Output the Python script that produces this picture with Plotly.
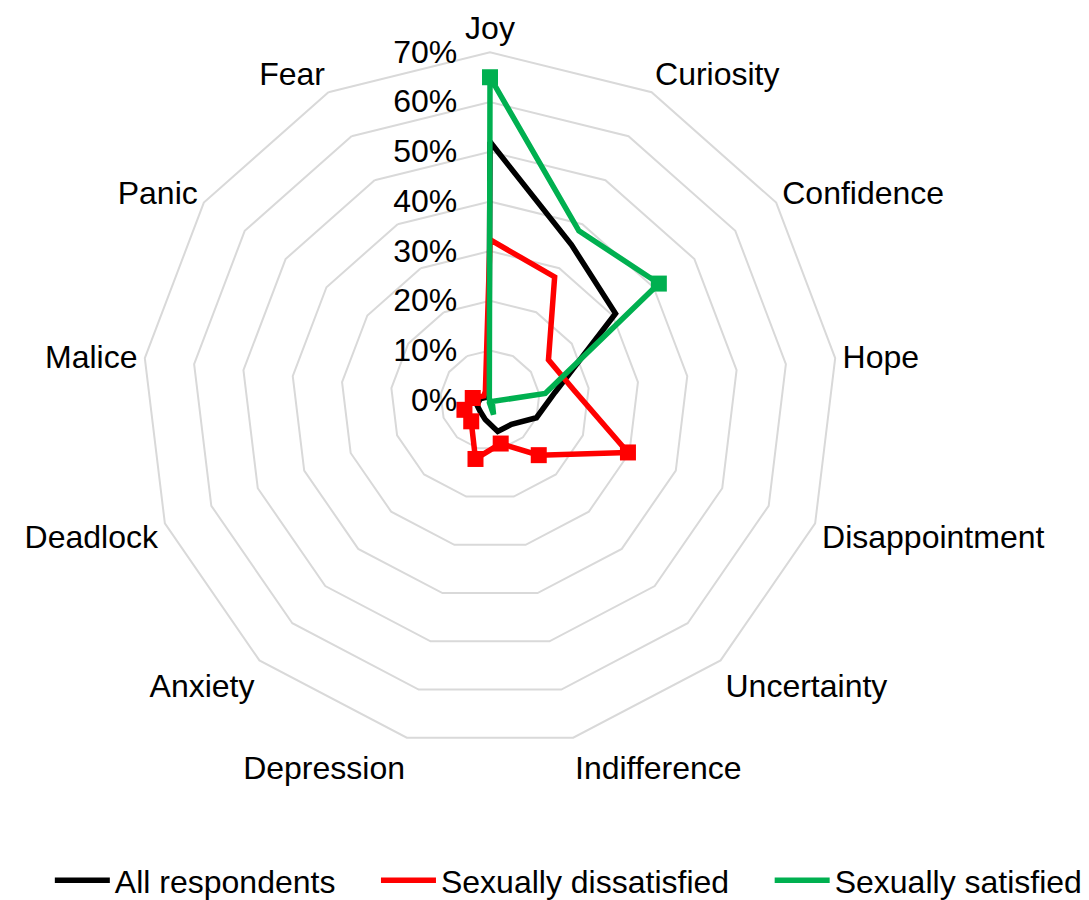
import plotly.graph_objects as go

# categories, clockwise from the top
emotions = ["Joy", "Curiosity", "Confidence", "Hope", "Disappointment",
            "Uncertainty", "Indifference", "Depression", "Anxiety",
            "Deadlock", "Malice", "Panic", "Fear"]

# shares of respondents, %
all_respondents = [52, 35.3, 30.7, 13.2, 10, 6.5, 6.5, 4, 3, 2.8, 2, 1, 0.5]
dissatisfied = [32.3, 28, 14.3, 17, 29.7, 14.8, 9, 12.2, 5.7, 5.5, 3.5, 1.5, 2]
satisfied = [65, 38.5, 41.3, 11.2, 0.7, 0.7, 3, 0.5, 0, 0, 0, 0, 0.3]

# which points carry a square marker
dissatisfied_marked = [False, False, False, False, True, True, True, True,
                       True, True, True, False, False]
satisfied_marked = [True, False, True, False, False, False, False, False,
                    False, False, False, False, False]

radial_ticks = [0, 10, 20, 30, 40, 50, 60, 70]
radial_labels = [f"{v}%" for v in radial_ticks]

FONT = "Liberation Sans, Arial, sans-serif"
PAD = "\u00a0" * 4


def closed(vals):
    return list(vals) + [vals[0]]


def main():
    series = [
        ("All respondents" + PAD, all_respondents, "#000000", None),
        ("Sexually dissatisfied" + PAD, dissatisfied, "#ff0000", dissatisfied_marked),
        ("Sexually satisfied", satisfied, "#00b050", satisfied_marked),
    ]

    fig = go.Figure()
    for name, vals, color, marked in series:
        fig.add_trace(go.Scatterpolar(
            r=closed(vals),
            theta=closed(emotions),
            mode="lines",
            name=name,
            line=dict(color=color, width=5.5),
        ))
        if marked:
            fig.add_trace(go.Scatterpolar(
                r=[v for v, m in zip(vals, marked) if m],
                theta=[c for c, m in zip(emotions, marked) if m],
                mode="markers",
                showlegend=False,
                marker=dict(symbol="square", size=16, color=color),
            ))

    # the page body adds an 8px offset, domain is shifted to compensate
    fig.update_layout(
        width=1089,
        height=900,
        paper_bgcolor="white",
        plot_bgcolor="white",
        margin=dict(l=0, r=0, t=0, b=0),
        font=dict(family=FONT, size=32, color="black"),
        polar=dict(
            domain=dict(x=[0.12259, 0.76263], y=[0.17611, 0.95056]),
            bgcolor="white",
            gridshape="linear",
            angularaxis=dict(
                rotation=90,
                direction="clockwise",
                showgrid=False,
                showline=True,
                linecolor="#d9d9d9",
                linewidth=2,
                ticks="",
                tickfont=dict(size=32, family=FONT),
            ),
            radialaxis=dict(
                range=[0, 70],
                angle=90,
                side="counterclockwise",
                tickvals=radial_ticks,
                ticktext=radial_labels,
                tickangle=90,
                showline=False,
                gridcolor="#d9d9d9",
                gridwidth=2,
                ticks="outside",
                ticklen=21,
                tickcolor="rgba(0,0,0,0)",
                tickfont=dict(size=32, family=FONT),
            ),
        ),
        legend=dict(
            orientation="h",
            x=0.515,
            xanchor="center",
            y=0.028,
            yanchor="middle",
            font=dict(size=32, family=FONT),
            itemwidth=55,
        ),
    )

    fig.write_html("out.html")


if __name__ == "__main__":
    main()
